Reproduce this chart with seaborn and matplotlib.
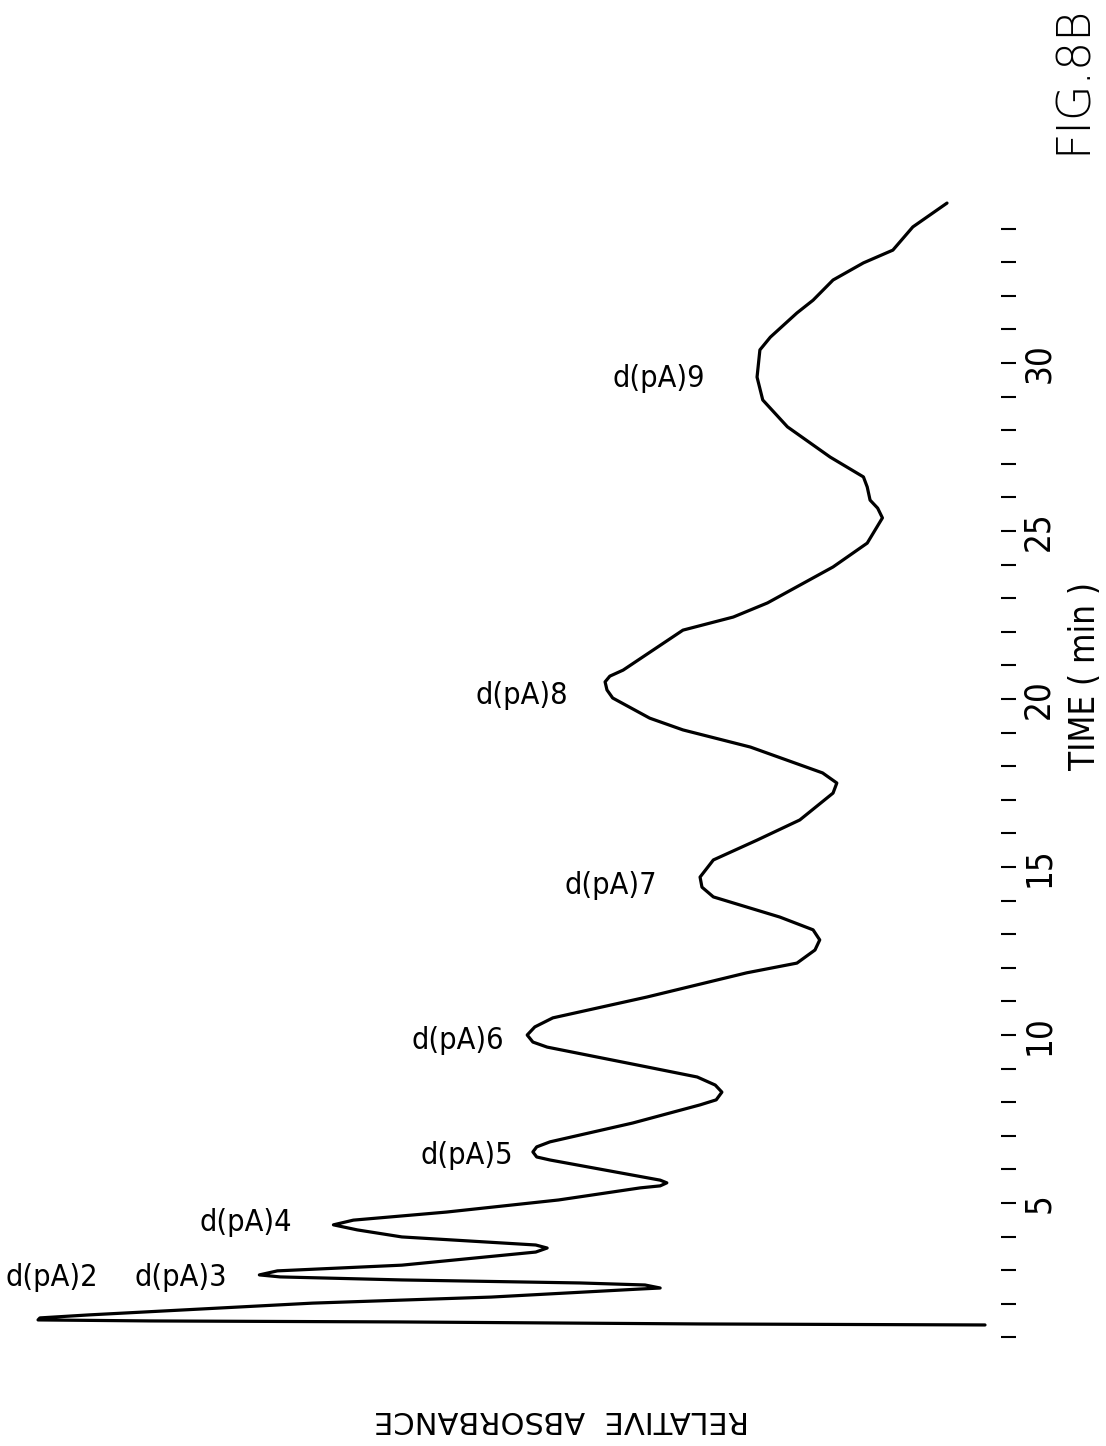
import matplotlib
matplotlib.use("Agg")
import matplotlib.pyplot as plt
import pandas as pd
import seaborn as sns

# chromatogram trace (time in min, relative absorbance)
time_min = [1.37, 1.40, 1.46, 1.49, 1.52, 1.58, 1.67, 2.02, 2.20, 2.44, 2.47, 2.56,
            2.62, 2.71, 2.80, 2.86, 2.98, 3.15, 3.54, 3.66, 3.75, 3.99, 4.20, 4.35,
            4.49, 4.73, 5.09, 5.45, 5.51, 5.60, 5.68, 5.83, 6.28, 6.37, 6.52, 6.67,
            6.82, 7.38, 7.92, 8.07, 8.30, 8.51, 8.75, 9.05, 9.64, 9.79, 10.00, 10.24,
            10.51, 11.13, 11.85, 12.14, 12.53, 12.83, 13.13,
            13.51, 14.11, 14.40, 14.70, 15.21, 15.80, 16.40, 17.20, 17.50, 17.80,
            18.57, 19.08, 19.43, 20.03, 20.27, 20.51, 20.68, 20.86, 22.05, 22.44,
            22.86, 23.93, 24.64, 25.39, 25.68, 25.92, 26.31, 26.61, 27.20, 28.10,
            28.90, 29.58, 30.39, 30.77, 31.49, 31.87, 32.47, 32.98, 33.36, 34.05, 34.76]
absorbance = [0.0, 30.0, 61.6, 87.9, 99.7, 99.5, 94.3, 70.8, 52.0, 36.3, 34.2, 35.8,
              42.6, 61.4, 74.2, 76.4, 74.5, 61.4, 47.3, 46.1, 47.3, 61.4, 66.1, 68.6,
              66.5, 56.7, 44.9, 36.3, 34.2, 33.5, 34.2, 37.1, 45.8, 47.2, 47.6, 47.2,
              45.8, 37.1, 30.0, 28.3, 27.7, 28.4, 30.3, 35.6, 46.1, 47.6, 48.2, 47.4,
              45.5, 35.6, 25.1, 19.8, 17.9, 17.4, 18.1,
              21.6, 28.6, 29.8, 30.0, 28.6, 24.0, 19.5, 16.0, 15.6, 17.1,
              24.7, 31.8, 35.3, 39.2, 39.8, 40.0, 39.5, 38.1, 31.8, 26.5,
              22.9, 16.0, 12.4, 10.8, 11.3, 12.1, 12.4, 12.8, 16.3, 20.8,
              23.4, 24.0, 23.7, 22.6, 19.8, 18.1, 16.0, 12.8, 9.7, 7.6, 4.0]

peak_names = ["d(pA)2", "d(pA)3", "d(pA)4", "d(pA)5", "d(pA)6", "d(pA)7", "d(pA)8", "d(pA)9"]
peak_label_time = [2.77, 2.77, 4.43, 6.40, 9.85, 14.45, 20.10, 29.55]
peak_label_abs = [98.2, 84.7, 77.8, 54.6, 55.5, 39.4, 48.8, 34.4]

tick_minutes = list(range(1, 35))
tick_labels = [str(m) if m % 5 == 0 else "" for m in tick_minutes]

sns.set_style("white")
plt.rcParams['font.family'] = ['DejaVu Sans']
plt.rcParams['font.stretch'] = 'condensed'

fig = plt.figure(figsize=(11.06, 14.46), dpi=100)
ax = fig.add_axes([0.01808, 0.05187, 0.8933, 0.8444])

df = pd.DataFrame({'time': time_min, 'absorbance': absorbance})
sns.lineplot(data=df, x='absorbance', y='time', sort=False, estimator=None,
             color='black', linewidth=2.3, ax=ax)

ax.set_xlim(101.6, -2.42)
ax.set_ylim(0, 36.34)
for side in ['left', 'right', 'top', 'bottom']:
    ax.spines[side].set_visible(False)

ax.set_xticks([])
ax.set_yticks(tick_minutes)
ax.set_yticklabels(tick_labels)
ax.tick_params(axis='y', left=False, right=True, labelleft=False, labelright=True,
               direction='inout', length=10.8, width=1.5, color='black',
               pad=4.5, labelsize=25, labelrotation=90)
for lab in ax.get_yticklabels():
    lab.set_va('center')
    lab.set_color('black')

for name, t, a in zip(peak_names, peak_label_time, peak_label_abs):
    ax.text(a, t, name, fontsize=22, ha='center', va='center', color='black')

ax.yaxis.set_label_position('right')
ax.set_ylabel("TIME ( min )", fontsize=25, rotation=90, color='black')
ax.yaxis.label.set_rotation_mode('default')
ax.yaxis.label.set_va('center')
ax.yaxis.label.set_ha('center')
ax.yaxis.set_label_coords(1.078, 0.569)

ax.set_xlabel("RELATIVE  ABSORBANCE", fontsize=22, rotation=180, color='black',
              fontstretch='normal')
ax.xaxis.label.set_va('center')
ax.xaxis.set_label_coords(0.5486, -0.0401)

fig.text(1073 / 1106, 1 - 79 / 1446, "FIG.8B", fontsize=33, rotation=90,
         ha='center', va='center', fontweight='light', fontstretch='normal',
         color='black')

fig.savefig("out.png", dpi=100, facecolor='white')
